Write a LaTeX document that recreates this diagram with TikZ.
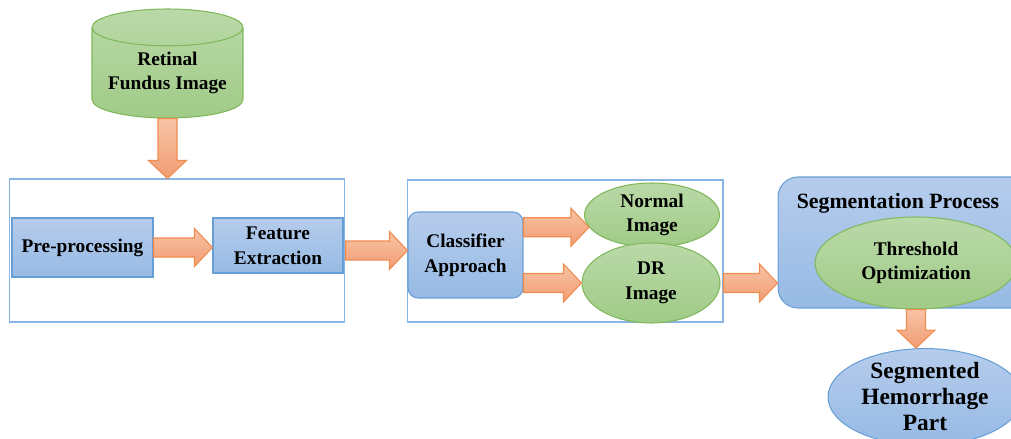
\documentclass[tikz,border=0pt]{standalone}
\usepackage{fontspec}
\setmainfont{Liberation Serif}
\usetikzlibrary{calc,shapes.geometric}

\definecolor{boxblue}{RGB}{182,204,236}
\definecolor{boxbluedark}{RGB}{150,186,228}
\definecolor{lineblue}{RGB}{104,158,214}
\definecolor{frameblue}{RGB}{135,182,230}
\definecolor{ellgreen}{RGB}{186,217,168}
\definecolor{ellgreendark}{RGB}{160,203,135}
\definecolor{linegreen}{RGB}{128,184,92}
\definecolor{arrowlight}{RGB}{248,196,166}
\definecolor{arrowdark}{RGB}{241,156,114}
\definecolor{lineorange}{RGB}{240,140,80}

\newcommand{\mainfont}{\bfseries\fontsize{11}{14}\selectfont}
\newcommand{\headfont}{\bfseries\fontsize{12.4}{15}\selectfont}
\newcommand{\bigfont}{\bfseries\fontsize{13.3}{14.8}\selectfont}

%% block arrow from #1 to #2
\newcommand{\fatarrow}[2]{%
    \coordinate (fa-h) at ($(#2)!0.36cm!(#1)$);
    \draw[fatarrowstyle] ($(#1)!0.19cm!90:(#2)$) -- ($(fa-h)!0.19cm!90:(#2)$)
        -- ($(fa-h)!0.38cm!90:(#2)$) -- (#2) -- ($(fa-h)!0.38cm!-90:(#2)$)
        -- ($(fa-h)!0.19cm!-90:(#2)$) -- ($(#1)!0.19cm!-90:(#2)$) -- cycle;
}

\begin{document}
\begin{tikzpicture}[x=0.02cm, y=-0.02cm,
    procbox/.style={rectangle, draw=lineblue, line width=0.6pt, top color=boxblue, bottom color=boxbluedark, font=\mainfont, align=center, inner sep=2pt},
    ellnode/.style={ellipse, draw=linegreen, line width=0.6pt, top color=ellgreen, bottom color=ellgreendark, font=\mainfont, align=center, inner sep=0pt},
    framebox/.style={rectangle, draw=frameblue, line width=0.6pt, inner sep=0pt},
    dbnode/.style={cylinder, shape border rotate=90, aspect=0.31, draw=linegreen, line width=0.6pt, top color=ellgreen, bottom color=ellgreendark, font=\mainfont, align=center, inner sep=0pt},
    fatarrowstyle/.style={draw=lineorange, line width=0.6pt, top color=arrowlight, bottom color=arrowdark}]

    %% Background
    \path[use as bounding box] (0,0) rectangle (1011,439);
    \clip (0,0) rectangle (1011,439);

    %% input
    \node[dbnode, anchor=shape center, minimum width=3.02cm, minimum height=2.18cm] (fundus) at (167.5,63.5) {Retinal\\Fundus Image};

    %% first stage
    \node[framebox, minimum width=6.72cm, minimum height=2.86cm] (box1) at (177,250.5) {};
    \node[procbox, minimum width=2.82cm, minimum height=1.18cm] (pre) at (82.5,247.5) {Pre-processing};
    \node[procbox, minimum width=2.6cm, minimum height=1.1cm] (feat) at (278,245.5) {Feature\\Extraction};

    %% second stage
    \node[framebox, minimum width=6.32cm, minimum height=2.84cm] (box2) at (565,251) {};
    \node[procbox, rounded corners=0.2cm, minimum width=2.3cm, minimum height=1.72cm] (clf) at (465.5,255) {Classifier\\Approach};
    \node[ellnode, minimum width=2.7cm, minimum height=1.28cm] (normal) at (652,215) {Normal\\Image};
    \node[ellnode, minimum width=2.76cm, minimum height=1.6cm] (dr) at (651,283) {DR\\Image};

    %% segmentation
    \node[procbox, rounded corners=0.4cm, minimum width=5.08cm, minimum height=2.62cm,
        label={[font=\headfont, anchor=north, inner sep=0pt, xshift=-0.14cm, yshift=-0.34cm]north:Segmentation Process}] (seg) at (905,242.5) {};
    \node[ellnode, minimum width=4.04cm, minimum height=1.84cm] (thr) at (916,263) {Threshold\\Optimization};
    \node[procbox, ellipse, inner sep=0pt, font=\bigfont, minimum width=3.88cm, minimum height=1.88cm] (part) at (925,397) {Segmented\\Hemorrhage\\Part};

    %% arrows
    \coordinate (a1) at (fundus.south |- box1.north);
    \fatarrow{fundus.south}{a1}
    \coordinate (a2) at (feat.west |- pre.east);
    \fatarrow{pre.east}{a2}
    \coordinate (a3) at (clf.west |- box1.east);
    \fatarrow{box1.east}{a3}
    \coordinate (a4) at (clf.east |- normal.191);
    \fatarrow{a4}{normal.191}
    \coordinate (a5) at (clf.east |- dr.west);
    \fatarrow{a5}{dr.west}
    \coordinate (a6s) at (box2.east |- dr.east);
    \coordinate (a6) at (seg.west |- dr.east);
    \fatarrow{a6s}{a6}
    \coordinate (a7) at (thr.south |- part.north);
    \fatarrow{thr.south}{a7}

\end{tikzpicture}
\end{document}
